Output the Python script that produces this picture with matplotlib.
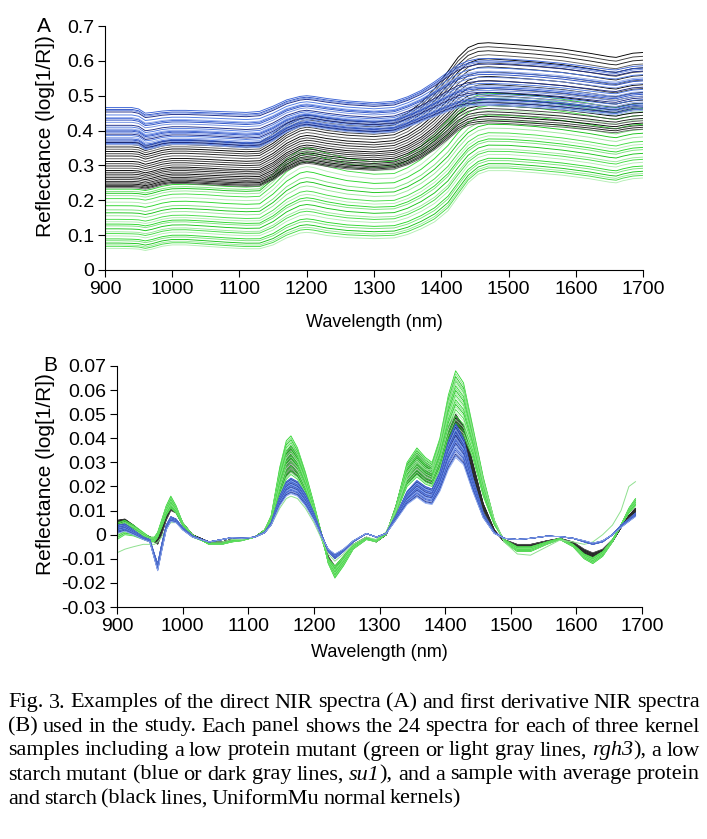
import numpy as np
import matplotlib
matplotlib.use("Agg")
import matplotlib.pyplot as plt

plt.rcParams['font.family'] = ['Liberation Sans', 'DejaVu Sans']
plt.rcParams['axes.unicode_minus'] = False

# ---- panel A : direct spectra, lowest / highest line of each group ----
wl_A = np.array([900, 920, 940, 950, 960, 970, 985, 1000, 1020, 1050, 1080, 1110, 1130,
                 1150, 1170, 1190, 1200, 1210, 1230, 1260, 1300, 1330, 1350, 1370, 1390,
                 1410, 1425, 1440, 1455, 1470, 1500, 1540, 1580, 1620, 1650, 1660, 1670,
                 1685, 1700])
A_green_lo = np.array([0.062, 0.062, 0.061, 0.060, 0.056, 0.060, 0.068, 0.072, 0.072, 0.068,
                       0.064, 0.061, 0.061, 0.072, 0.092, 0.106, 0.108, 0.106, 0.099, 0.093,
                       0.090, 0.092, 0.102, 0.118, 0.138, 0.170, 0.210, 0.250, 0.275, 0.285,
                       0.285, 0.279, 0.272, 0.262, 0.252, 0.250, 0.256, 0.262, 0.264])
A_green_hi = np.array([0.232, 0.232, 0.232, 0.231, 0.228, 0.232, 0.240, 0.245, 0.246, 0.244,
                       0.240, 0.238, 0.240, 0.275, 0.318, 0.345, 0.350, 0.347, 0.335, 0.320,
                       0.310, 0.312, 0.330, 0.355, 0.390, 0.430, 0.465, 0.490, 0.502, 0.507,
                       0.505, 0.500, 0.490, 0.478, 0.468, 0.466, 0.470, 0.476, 0.478])
A_black_lo = np.array([0.236, 0.236, 0.236, 0.235, 0.232, 0.236, 0.244, 0.248, 0.248, 0.245,
                       0.242, 0.240, 0.241, 0.258, 0.285, 0.303, 0.306, 0.304, 0.297, 0.290,
                       0.286, 0.290, 0.302, 0.320, 0.345, 0.375, 0.400, 0.415, 0.420, 0.422,
                       0.420, 0.415, 0.410, 0.402, 0.395, 0.394, 0.398, 0.402, 0.404])
A_black_hi = np.array([0.366, 0.366, 0.366, 0.364, 0.355, 0.360, 0.368, 0.372, 0.372, 0.370,
                       0.367, 0.364, 0.366, 0.390, 0.420, 0.440, 0.444, 0.442, 0.435, 0.428,
                       0.424, 0.430, 0.450, 0.480, 0.520, 0.570, 0.610, 0.638, 0.650, 0.652,
                       0.648, 0.642, 0.634, 0.622, 0.612, 0.610, 0.615, 0.622, 0.624])
A_blue_lo = np.array([0.360, 0.360, 0.360, 0.358, 0.345, 0.348, 0.356, 0.360, 0.360, 0.358,
                      0.354, 0.350, 0.352, 0.370, 0.395, 0.410, 0.413, 0.410, 0.404, 0.397,
                      0.392, 0.396, 0.410, 0.425, 0.440, 0.455, 0.465, 0.470, 0.472, 0.472,
                      0.470, 0.466, 0.460, 0.452, 0.446, 0.445, 0.450, 0.456, 0.458])
A_blue_hi = np.array([0.466, 0.466, 0.466, 0.462, 0.450, 0.452, 0.456, 0.458, 0.458, 0.456,
                      0.454, 0.452, 0.455, 0.470, 0.488, 0.498, 0.500, 0.498, 0.492, 0.485,
                      0.480, 0.484, 0.497, 0.515, 0.540, 0.568, 0.588, 0.600, 0.606, 0.607,
                      0.605, 0.600, 0.593, 0.583, 0.575, 0.574, 0.578, 0.584, 0.586])
# where each of the 24 spectra sits between the two envelopes
w_A_green = [1.0, 0.96, 0.93, 0.89, 0.84, 0.78, 0.72, 0.65, 0.6, 0.55, 0.49, 0.45,
             0.41, 0.38, 0.33, 0.28, 0.25, 0.21, 0.16, 0.13, 0.09, 0.06, 0.035, 0.0]
w_A_black = [1.0, 0.95, 0.9, 0.85, 0.8, 0.75, 0.7, 0.64, 0.58, 0.53, 0.48, 0.43,
             0.38, 0.34, 0.3, 0.26, 0.22, 0.18, 0.14, 0.11, 0.08, 0.05, 0.025, 0.0]
w_A_blue = [1.0, 0.95, 0.92, 0.88, 0.8, 0.73, 0.7, 0.66, 0.6, 0.52, 0.47, 0.42,
            0.39, 0.36, 0.32, 0.28, 0.24, 0.19, 0.15, 0.12, 0.09, 0.06, 0.03, 0.0]

# ---- panel B : first derivative spectra ----
wl_B = np.array([900, 912, 925, 940, 950, 957, 962, 968, 975, 982, 990, 1000, 1015, 1040,
                 1060, 1075, 1090, 1110, 1125, 1135, 1148, 1158, 1165, 1175, 1187, 1200,
                 1212, 1222, 1232, 1245, 1260, 1280, 1295, 1310, 1325, 1342, 1357, 1370,
                 1380, 1392, 1405, 1416, 1428, 1442, 1458, 1475, 1490, 1510, 1530, 1555,
                 1575, 1595, 1612, 1625, 1640, 1655, 1668, 1680, 1690])
B_green_hi = np.array([0.005, 0.006, 0.004, 0.001, -0.001, -0.001, 0.001, 0.006, 0.012, 0.016,
                       0.012, 0.005, 0.0, -0.004, -0.004, -0.003, -0.0025, -0.001, 0.002, 0.008,
                       0.028, 0.039, 0.041, 0.036, 0.026, 0.013, 0.0, -0.012, -0.018, -0.013,
                       -0.006, -0.002, -0.003, 0.0, 0.012, 0.030, 0.036, 0.032, 0.030, 0.040,
                       0.058, 0.068, 0.063, 0.045, 0.024, 0.006, -0.003, -0.007, -0.007, -0.004,
                       -0.002, -0.005, -0.010, -0.012, -0.009, -0.003, 0.004, 0.011, 0.015])
B_green_lo = np.array([-0.002, 0.0, -0.0005, -0.002, -0.003, -0.003, -0.001, 0.003, 0.008, 0.011,
                       0.009, 0.004, -0.001, -0.0035, -0.0035, -0.0025, -0.002, -0.001, 0.001, 0.005,
                       0.016, 0.023, 0.025, 0.023, 0.017, 0.008, -0.002, -0.010, -0.013, -0.009,
                       -0.004, -0.0015, -0.002, 0.001, 0.009, 0.020, 0.024, 0.021, 0.020, 0.027,
                       0.038, 0.044, 0.041, 0.032, 0.016, 0.004, -0.002, -0.005, -0.005, -0.003,
                       -0.0015, -0.004, -0.008, -0.0095, -0.007, -0.002, 0.004, 0.009, 0.012])
B_green_odd = np.array([-0.0075, -0.006, -0.005, -0.004, -0.004, -0.004, -0.003, -0.001, 0.003, 0.005,
                        0.005, 0.003, -0.001, -0.003, -0.003, -0.002, -0.002, -0.001, 0.001, 0.004,
                        0.011, 0.015, 0.016, 0.015, 0.011, 0.005, -0.002, -0.008, -0.011, -0.008,
                        -0.004, -0.001, -0.002, 0.001, 0.010, 0.024, 0.030, 0.027, 0.027, 0.038,
                        0.055, 0.064, 0.060, 0.043, 0.022, 0.006, -0.003, -0.008, -0.0085, -0.005,
                        -0.0022, -0.003, -0.004, -0.003, 0.0, 0.004, 0.010, 0.020, 0.022])
B_black_hi = np.array([0.006, 0.0065, 0.004, 0.0005, -0.001, -0.002, -0.002, 0.003, 0.009, 0.013,
                       0.011, 0.005, 0.0, -0.003, -0.003, -0.002, -0.002, -0.001, 0.002, 0.007,
                       0.024, 0.034, 0.037, 0.034, 0.025, 0.012, 0.0, -0.011, -0.017, -0.012,
                       -0.005, -0.0015, -0.003, 0.0, 0.012, 0.029, 0.034, 0.030, 0.028, 0.035,
                       0.045, 0.050, 0.045, 0.030, 0.013, 0.002, -0.003, -0.005, -0.005, -0.003,
                       -0.002, -0.004, -0.008, -0.0095, -0.008, -0.003, 0.003, 0.008, 0.011])
B_black_lo = np.array([0.003, 0.004, 0.002, 0.0, -0.001, -0.003, -0.004, 0.0, 0.006, 0.010,
                       0.009, 0.004, -0.0005, -0.003, -0.003, -0.002, -0.002, -0.001, 0.0015, 0.005,
                       0.017, 0.024, 0.026, 0.024, 0.018, 0.008, -0.001, -0.009, -0.013, -0.009,
                       -0.004, -0.001, -0.0025, 0.0, 0.009, 0.021, 0.025, 0.022, 0.021, 0.028,
                       0.036, 0.040, 0.036, 0.024, 0.010, 0.001, -0.002, -0.004, -0.004, -0.0025,
                       -0.0015, -0.003, -0.006, -0.0075, -0.006, -0.002, 0.003, 0.007, 0.009])
B_blue_hi = np.array([0.004, 0.0045, 0.002, -0.001, -0.002, -0.008, -0.012, -0.004, 0.004, 0.0075,
                      0.0065, 0.003, -0.0005, -0.003, -0.002, -0.0012, -0.0015, -0.001, 0.001, 0.005,
                      0.016, 0.022, 0.0235, 0.022, 0.017, 0.009, 0.0, -0.007, -0.010, -0.007,
                      -0.003, 0.0005, -0.001, 0.0005, 0.008, 0.018, 0.0225, 0.020, 0.019, 0.026,
                      0.039, 0.046, 0.040, 0.024, 0.009, 0.001, -0.0015, -0.002, -0.0015, -0.0006,
                      -0.0008, -0.0015, -0.003, -0.004, -0.003, 0.0, 0.004, 0.0065, 0.009])
B_blue_lo = np.array([0.0005, 0.0015, 0.0, -0.002, -0.003, -0.010, -0.015, -0.007, 0.002, 0.0055,
                      0.005, 0.002, -0.001, -0.003, -0.002, -0.0012, -0.0015, -0.001, 0.0008, 0.004,
                      0.012, 0.016, 0.017, 0.016, 0.012, 0.006, -0.001, -0.006, -0.008, -0.006,
                      -0.0025, 0.0005, -0.001, 0.0005, 0.006, 0.0125, 0.0155, 0.013, 0.0125, 0.018,
                      0.027, 0.032, 0.029, 0.018, 0.007, 0.0005, -0.0015, -0.002, -0.0015, -0.0006,
                      -0.0008, -0.0015, -0.0025, -0.0035, -0.0025, 0.0, 0.003, 0.0055, 0.0075])
w_B_green = [1.0, 0.95, 0.9, 0.86, 0.82, 0.78, 0.74, 0.7, 0.66, 0.62, 0.58, 0.55,
             0.5, 0.46, 0.42, 0.38, 0.33, 0.28, 0.22, 0.16, 0.1, 0.05, 0.0]
w_B_black = [1.0, 0.96, 0.92, 0.88, 0.84, 0.8, 0.76, 0.72, 0.68, 0.64, 0.6, 0.56,
             0.52, 0.48, 0.44, 0.4, 0.35, 0.3, 0.25, 0.2, 0.15, 0.1, 0.05, 0.0]
w_B_blue = [1.0, 0.97, 0.93, 0.9, 0.86, 0.82, 0.78, 0.74, 0.7, 0.66, 0.62, 0.58,
            0.54, 0.5, 0.46, 0.42, 0.38, 0.33, 0.28, 0.22, 0.16, 0.1, 0.05, 0.0]

greens = ['#2bd62b', '#7be27b', '#19c419', '#9be89b', '#45dc45', '#b4eeb4']
blacks = ['#000000', '#3c3c3c', '#1c1c1c', '#5c5c5c']
blues = ['#3c64d6', '#2a4fc4', '#7390e2', '#1b2a86', '#4d78e2', '#93abec']

# caption; *...* marks italic
caption = [
    "Fig. 3. Examples of the direct NIR spectra (A) and first derivative NIR spectra",
    "(B) used in the study. Each panel shows the 24 spectra for each of three kernel",
    "samples including a low protein mutant (green or light gray lines, *rgh3*), a low",
    "starch mutant (blue or dark gray lines, *su1*), and a sample with average protein",
    "and starch (black lines, UniformMu normal kernels)",
]


def draw_group(ax, wl, lo, hi, weights, colors, lw=0.65):
    for i, w in enumerate(weights):
        ax.plot(wl, (1 - w) * lo + w * hi, color=colors[i % len(colors)], lw=lw)


def style(ax, yticks, ylabels, letter, letter_x, ylab_x, xlab_y):
    for s in ['top', 'right']:
        ax.spines[s].set_visible(False)
    ax.set_xlim(900, 1700)
    ax.set_xticks(range(900, 1701, 100))
    ax.set_yticks(yticks)
    ax.set_yticklabels(ylabels)
    ax.set_ylim(yticks[0], yticks[-1])
    ax.tick_params(direction='out', length=5, width=0.8, labelsize=14, pad=3)
    ax.set_xlabel("Wavelength (nm)", fontsize=13)
    ax.set_ylabel("Reflectance (log[1/R])", fontsize=15)
    ax.yaxis.set_label_coords(ylab_x, 0.55)
    ax.xaxis.set_label_coords(0.5, xlab_y)
    ax.text(letter_x, 1.0, letter, transform=ax.transAxes, fontsize=15, va='center')


fig = plt.figure(figsize=(7.07, 8.39), dpi=100)

axA = fig.add_axes([0.1485, 0.6782, 0.761, 0.2908])
draw_group(axA, wl_A, A_green_lo, A_green_hi, w_A_green, greens)
draw_group(axA, wl_A, A_black_lo, A_black_hi, w_A_black, blacks)
draw_group(axA, wl_A, A_blue_lo, A_blue_hi, w_A_blue, blues)
yA = [0, 0.1, 0.2, 0.3, 0.4, 0.5, 0.6, 0.7]
style(axA, yA, ['0'] + ['%.1f' % v for v in yA[1:]], 'A', -0.126, -0.093, -0.18)

axB = fig.add_axes([0.1655, 0.2765, 0.7426, 0.2873])
draw_group(axB, wl_B, B_black_lo, B_black_hi, w_B_black, blacks, lw=0.55)
draw_group(axB, wl_B, B_green_lo, B_green_hi, w_B_green, greens, lw=0.6)
axB.plot(wl_B, B_green_odd, color='#8fe08f', lw=0.7)
draw_group(axB, wl_B, B_blue_lo, B_blue_hi, w_B_blue, blues, lw=0.6)
yB = [-0.03, -0.02, -0.01, 0, 0.01, 0.02, 0.03, 0.04, 0.05, 0.06, 0.07]
style(axB, yB, ['0' if v == 0 else '%.2f' % v for v in yB], 'B', -0.141, -0.118, -0.154)

# caption, justified line by line
fig.canvas.draw()
rend = fig.canvas.get_renderer()
W = fig.bbox.width
x0, x1 = 8, 700
for i, line in enumerate(caption):
    y = 1 - (703 + 24 * i) / 839
    words = []
    for word in line.split(' '):
        parts = word.split('*')
        segs = []
        for k, p in enumerate(parts):
            if p:
                t = fig.text(0, y, p, fontsize=16, family='Liberation Serif', va='center',
                             style='italic' if k % 2 else 'normal')
                segs.append((t, t.get_window_extent(rend).width))
        words.append(segs)
    widths = [sum(wd for _, wd in segs) for segs in words]
    if i < len(caption) - 1:
        gap = (x1 - x0 - sum(widths)) / (len(words) - 1)
    else:
        gap = 4.0
    x = x0
    for segs in words:
        for t, wd in segs:
            t.set_x(x / W)
            x += wd
        x += gap

fig.savefig("out.png", dpi=100)
